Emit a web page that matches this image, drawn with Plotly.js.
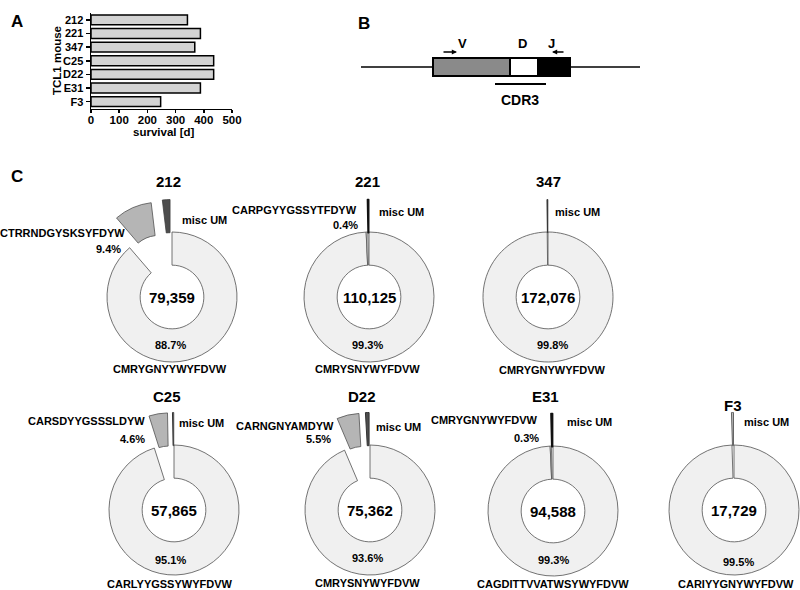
<!DOCTYPE html>
<html><head><meta charset="utf-8">
<script src="https://cdn.plot.ly/plotly-3.0.1.min.js"></script>
<style>html,body{margin:0;padding:0;overflow:hidden;background:#fff;width:800px;height:590px}</style>
</head><body><div id="chart" style="width:840px;height:620px"></div>
<script>
// ---------- Panel A data ----------
const mice = ['212','221','347','C25','D22','E31','F3'];
const survivalDays = [342, 388, 368, 435, 435, 388, 247];
const axisTitles = {x:'survival [d]', y:'TCL1 mouse'};

// ---------- Panel B schematic ----------
const segments = ['V','D','J'];
const segmentLengths = [77, 28, 32];

// ---------- Panel C data ----------
const readCounts = [79359, 110125, 172076, 57865, 75362, 94588, 17729];
const topClone = ['CMRYGNYYWYFDVW','CMRYSNYWYFDVW','CMRYGNYWYFDVW','CARLYYGSSYWYFDVW','CMRYSNYWYFDVW','CAGDITTVVATWSYWYFDVW','CARIYYGNYWYFDVW'];
const topPct = [88.7, 99.3, 99.8, 95.1, 93.6, 99.3, 99.5];
const secondClone = ['CTRRNDGYSKSYFDYW','CARPGYYGSSYTFDYW', null,'CARSDYYGSSSLDYW','CARNGNYAMDYW','CMRYGNYWYFDVW', null];
const secondPct = [9.4, 0.4, null, 4.6, 5.5, 0.3, null];
const miscPct = [1.9, 0.3, 0.2, 0.3, 0.9, 0.4, 0.5];
const miscLabel = 'misc UM';

// ---------- layout config (pixels) ----------
const W = 840, H = 620;
const FONT = 'Liberation Sans, Arial, sans-serif';
const R = 65, HOLE = 0.49, PULL = 0.5;
const centers = [[172,297],[369,297],[548,297],[174,510],[370,510],[553,511],[734,510]];
const titlePos = [[168,182],[367,182],[548,182],[167,396],[362,396],[545,396],[733,405]];
const pctPos = [[170,345],[367,345],[552,345],[170,560],[367,558],[553,560],[738,562]];
const seqPos = [[170,369],[367,369],[552,370],[170,584],[367,583],[553,584],[736,584]];
const secSeqPos = [[127,233],[359,210],null,[147,421],[336,426],[540,420],null];
const secPctPos = [[123,249],[360,225],null,[147,439],[333,439],[541,438],null];
const miscPos = [[180,220],[377,212],[553,212],[177,423],[374,427],[565,422],[742,422]];
const secondStyle = [{c:'#b5b5b5',p:PULL},{c:'#ffffff',p:0},null,{c:'#b5b5b5',p:PULL},{c:'#b5b5b5',p:PULL},{c:'#ffffff',p:0},null];
const miscStyle = [
  {c:'#4d4d4d', lc:'#404040', lw:0.8},
  {c:'#111111', lc:'#111111', lw:1.6},
  {c:'#333333', lc:'#333333', lw:1.0},
  {c:'#ffffff', lc:'#333333', lw:1.0},
  {c:'#4d4d4d', lc:'#333333', lw:1.0},
  {c:'#111111', lc:'#111111', lw:1.6},
  {c:'#c0c0c0', lc:'#555555', lw:0.9}
];

const px = x => x / W;
const py = y => 1 - y / H;

function ann(text, x, y, size, xanchor) {
  return {text: text, xref:'paper', yref:'paper', x: px(x), y: py(y), showarrow:false,
          xanchor: xanchor || 'center', yanchor:'middle',
          font:{family:FONT, size:size, color:'#000', weight:700}};
}

const traces = [];
const annotations = [];
const shapes = [];

// Panel A bars
traces.push({
  type:'bar', orientation:'h', x: survivalDays, y: mice, xaxis:'x', yaxis:'y',
  width: 0.72, marker:{color:'#d3d3d3', line:{color:'#000', width:1.5}},
  hoverinfo:'skip', showlegend:false
});
annotations.push(ann(axisTitles.x, 164, 132, 11.5));
annotations.push(Object.assign(ann(axisTitles.y, 57, 60, 11.5), {textangle:-90}));

// Panel C donuts
mice.forEach((m, i) => {
  const vals = [topPct[i]], cols = ['#f0f0f0'], pulls = [0], lcs = ['#505050'], lws = [0.8];
  if (secondPct[i] !== null) {
    vals.push(secondPct[i]); cols.push(secondStyle[i].c); pulls.push(secondStyle[i].p);
    lcs.push('#505050'); lws.push(0.8);
  }
  vals.push(miscPct[i]); cols.push(miscStyle[i].c); pulls.push(PULL);
  lcs.push(miscStyle[i].lc); lws.push(miscStyle[i].lw);
  const [cx, cy] = centers[i];
  const half = R * (1 + PULL);
  traces.push({
    type:'pie', values: vals, sort:false, direction:'clockwise', rotation:0,
    hole: HOLE, pull: pulls, textinfo:'none', hoverinfo:'skip', showlegend:false,
    marker:{colors: cols, line:{color: lcs, width: lws}},
    domain:{x:[px(cx-half), px(cx+half)], y:[py(cy+half), py(cy-half)]}
  });
  annotations.push(ann(m, titlePos[i][0], titlePos[i][1], 15));
  annotations.push(ann(readCounts[i].toLocaleString('en-US'), cx, cy, 15));
  annotations.push(ann(topPct[i].toFixed(1) + '%', pctPos[i][0], pctPos[i][1], 11));
  annotations.push(ann(topClone[i], seqPos[i][0], seqPos[i][1], 11));
  if (secondClone[i] !== null) {
    annotations.push(ann(secondClone[i], secSeqPos[i][0], secSeqPos[i][1], 11, 'right'));
    annotations.push(ann(secondPct[i].toFixed(1) + '%', secPctPos[i][0], secPctPos[i][1], 11, 'right'));
  }
  annotations.push(ann(miscLabel, miscPos[i][0], miscPos[i][1], 11, 'left'));
});

// Panel B schematic on hidden pixel-unit axes
const bx0 = 433, by0 = 58, by1 = 76;
const segColors = ['#8a8a8a', '#ffffff', '#000000'];
shapes.push({type:'line', xref:'x2', yref:'y2', x0:361, x1:640, y0:67, y1:67, line:{color:'#000', width:1.5}});
let acc = bx0;
segments.forEach((s, k) => {
  shapes.push({type:'rect', xref:'x2', yref:'y2', x0:acc, x1:acc+segmentLengths[k], y0:by0, y1:by1,
               fillcolor:segColors[k], line:{color:'#000', width:2}});
  acc += segmentLengths[k];
});
shapes.push({type:'line', xref:'x2', yref:'y2', x0:495, x1:546, y0:84, y1:84, line:{color:'#000', width:2}});
const labStyle = {family:FONT, size:13, color:'#000', weight:700};
annotations.push({text:segments[0], xref:'x2', yref:'y2', x:462, y:43, showarrow:false, font:labStyle});
annotations.push({text:segments[1], xref:'x2', yref:'y2', x:522, y:43, showarrow:false, font:labStyle});
annotations.push({text:segments[2], xref:'x2', yref:'y2', x:551, y:43, showarrow:false, font:labStyle});
annotations.push({text:'CDR3', xref:'x2', yref:'y2', x:520, y:100, showarrow:false, font:{family:FONT, size:14, color:'#000', weight:700}});
annotations.push({text:'', xref:'x2', yref:'y2', x:457, y:52, ax:-15, ay:0, showarrow:true, arrowhead:2, arrowsize:0.8, arrowwidth:1.3, arrowcolor:'#000'});
annotations.push({text:'', xref:'x2', yref:'y2', x:552, y:52, ax:13, ay:0, showarrow:true, arrowhead:2, arrowsize:0.8, arrowwidth:1.3, arrowcolor:'#000'});

// Panel letters
const letterFont = {family:FONT, size:17, color:'#000', weight:700};
annotations.push({text:'A', xref:'paper', yref:'paper', x:px(9), y:py(10), showarrow:false, font:letterFont});
annotations.push({text:'B', xref:'paper', yref:'paper', x:px(364), y:py(12), showarrow:false, font:letterFont});
annotations.push({text:'C', xref:'paper', yref:'paper', x:px(9), y:py(165), showarrow:false, font:letterFont});

// invisible trace to instantiate x2/y2
traces.push({type:'scatter', x:[], y:[], xaxis:'x2', yaxis:'y2', showlegend:false, hoverinfo:'skip'});

const layout = {
  width:W, height:H, margin:{l:0, r:0, t:0, b:0},
  paper_bgcolor:'#fff', plot_bgcolor:'rgba(0,0,0,0)',
  font:{family:FONT, color:'#000'},
  showlegend:false,
  xaxis:{domain:[px(91), px(232)], range:[0,500], tickmode:'linear', tick0:0, dtick:100, anchor:'y',
         ticks:'outside', ticklen:3, tickwidth:1.5, tickcolor:'#000', ticklabelstandoff:-3,
         showline:true, linecolor:'#000', linewidth:1.5, showgrid:false, zeroline:false,
         tickfont:{family:FONT, size:11.5, color:'#000', weight:700}, fixedrange:true},
  yaxis:{domain:[py(108.5), py(13)], type:'category', autorange:'reversed', anchor:'x',
         tickmode:'array', tickvals: mice, ticktext: mice,
         ticks:'outside', ticklen:4, tickwidth:1.5, tickcolor:'#000',
         showline:true, linecolor:'#000', linewidth:1.5, showgrid:false, zeroline:false,
         tickfont:{family:FONT, size:11, color:'#000', weight:700}, fixedrange:true},
  xaxis2:{domain:[0,1], range:[0,W], visible:false, anchor:'y2', fixedrange:true},
  yaxis2:{domain:[0,1], range:[H,0], visible:false, anchor:'x2', fixedrange:true},
  shapes: shapes,
  annotations: annotations
};
Plotly.newPlot('chart', traces, layout, {displayModeBar:false, staticPlot:true});
</script></body></html>
